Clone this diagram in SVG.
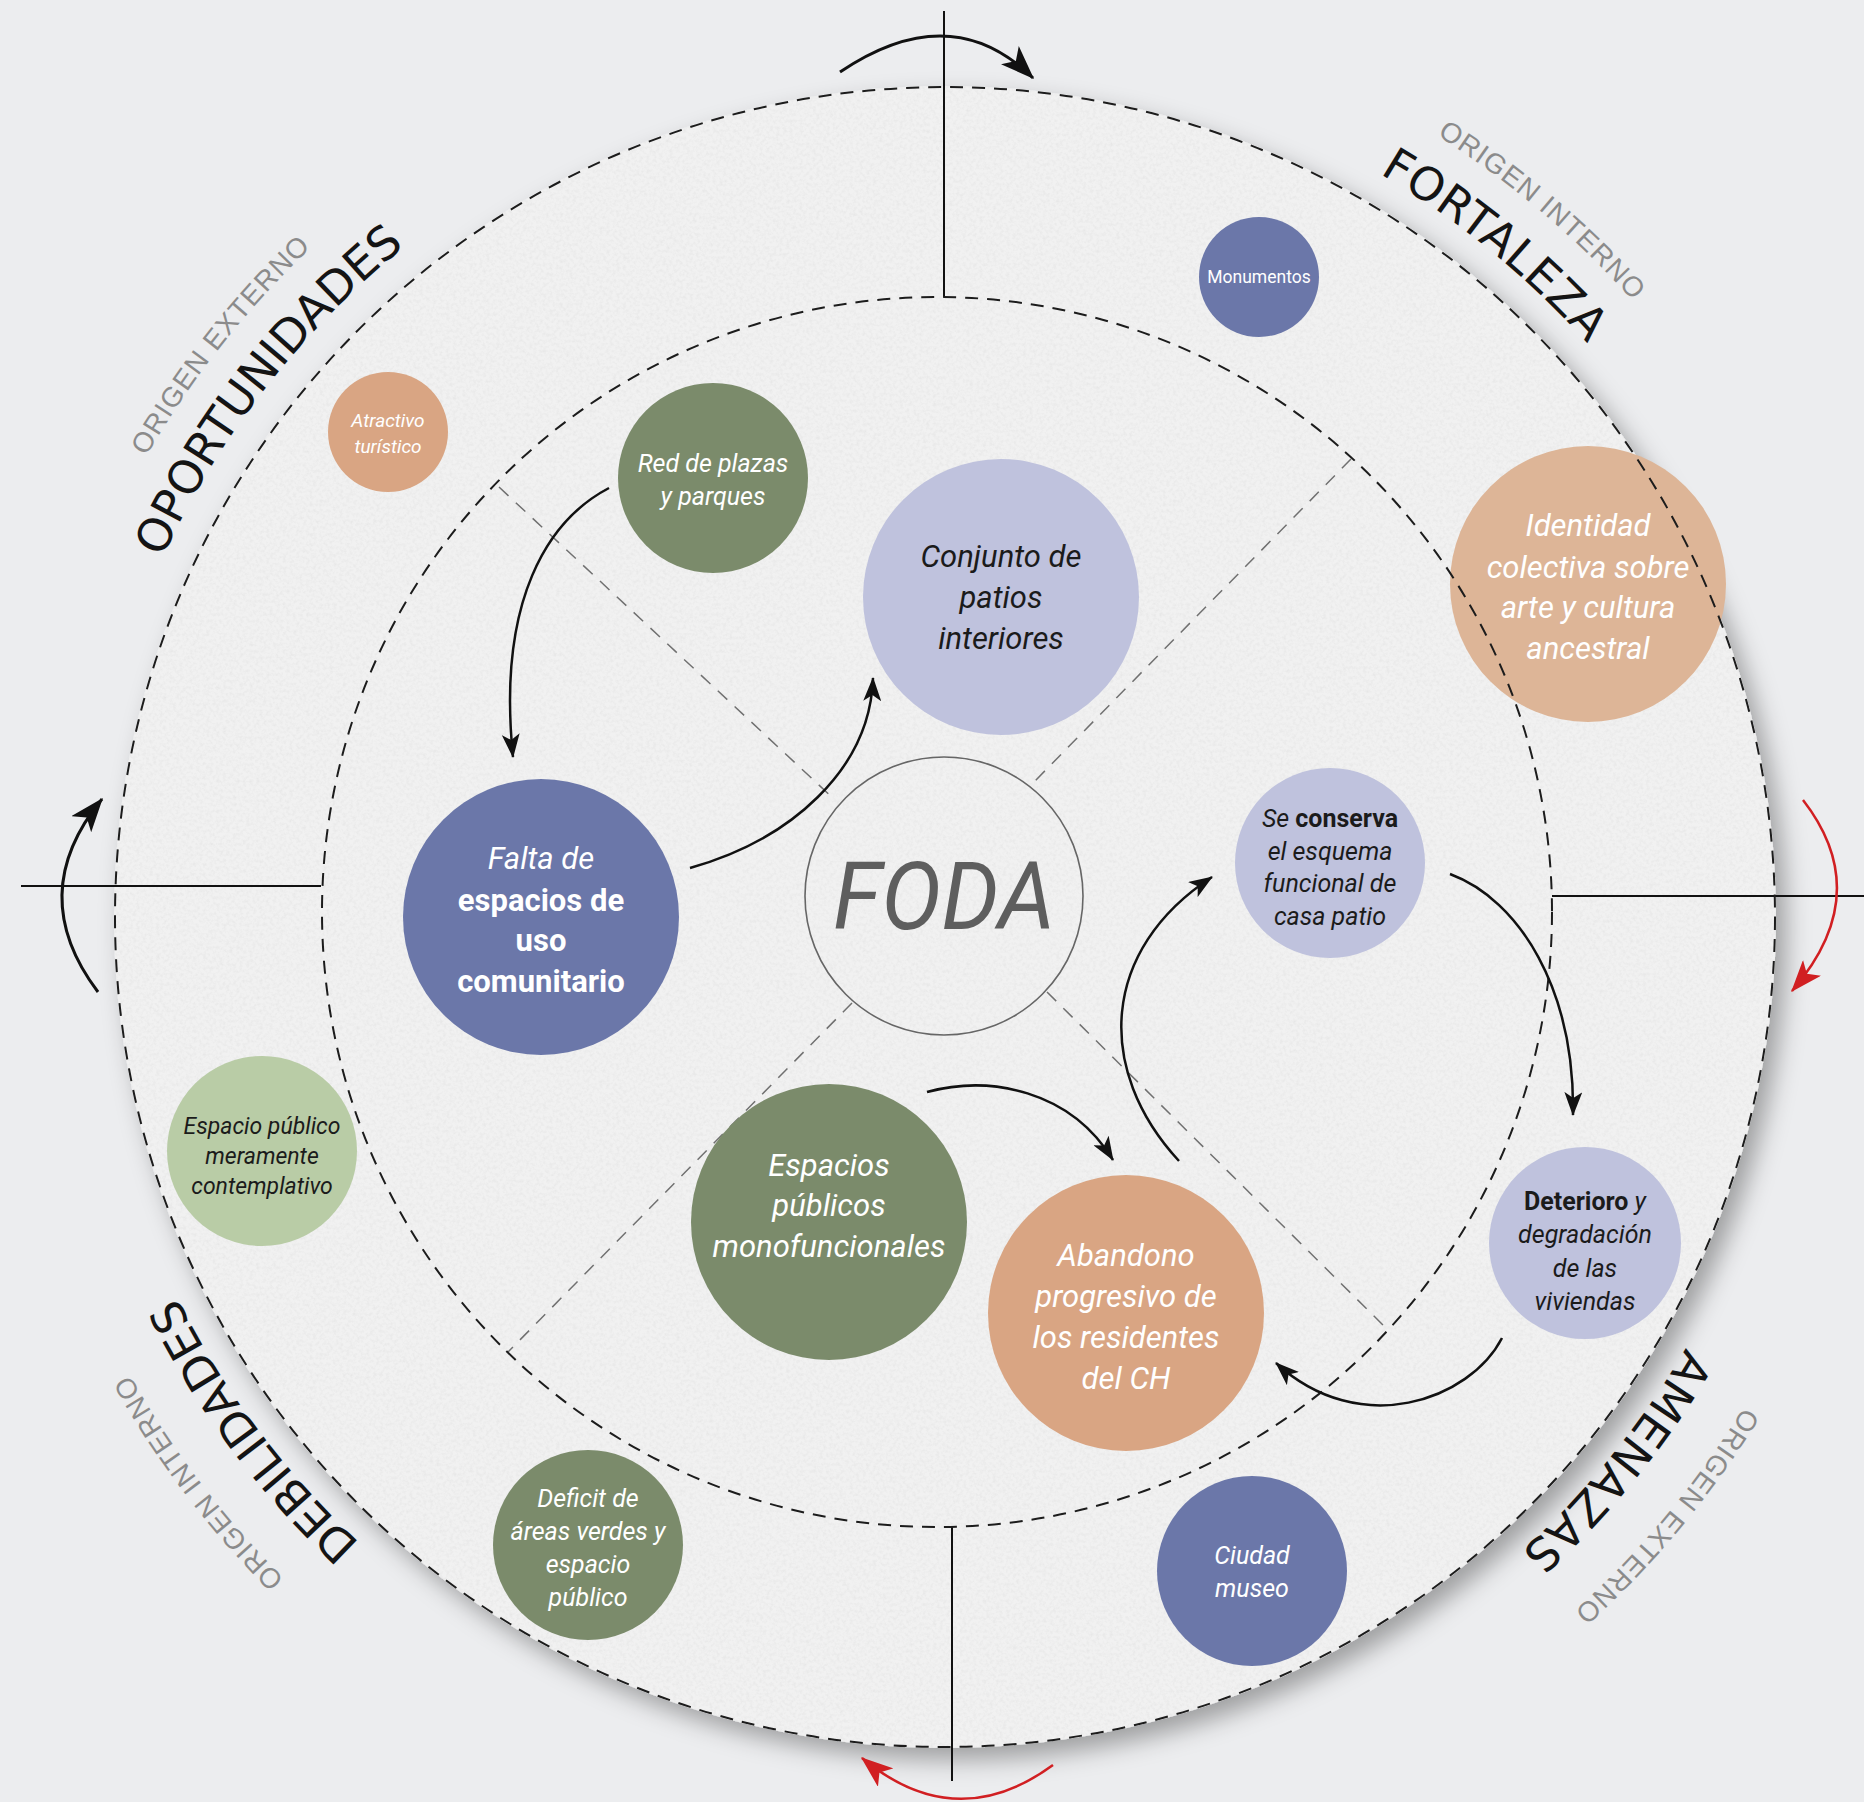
<svg xmlns="http://www.w3.org/2000/svg" width="1864" height="1802" viewBox="0 0 1864 1802">
<defs>
<style>
.lbl{font-family:"DejaVu Sans","Liberation Sans",sans-serif;font-size:46px;fill:#141414}
.org{font-family:"Liberation Sans",Arial,sans-serif;font-size:28px;fill:#8b8b8b;letter-spacing:1px}
.nt{font-family:Roboto,"Liberation Sans",sans-serif;font-style:italic;text-anchor:middle}
.w{fill:#ffffff}
.k{fill:#1b1b1b}
.b{font-weight:700;font-style:normal}
.up{font-style:normal}
.dash{fill:none;stroke:#1c1c1c;stroke-width:2;stroke-dasharray:13 9}
.diag{stroke:#707070;stroke-width:1.5;stroke-dasharray:13 10;fill:none}
.ax{stroke:#111;stroke-width:2}
.con{fill:none;stroke:#111;stroke-width:2.5}
.rot{fill:none;stroke:#111;stroke-width:3}
.rotr{fill:none;stroke:#d11f22;stroke-width:2.5}
.blue{fill:#6b77a9}.lav{fill:#bfc2dd}.peach{fill:#d9a583}.green{fill:#7b8b6b}.lgreen{fill:#b9cca6}
</style>
<filter id="sh" x="-10%" y="-10%" width="130%" height="130%">
<feDropShadow dx="10" dy="12" stdDeviation="12" flood-color="#000" flood-opacity="0.33"/>
</filter>
<filter id="tex" x="0" y="0" width="100%" height="100%">
<feTurbulence type="fractalNoise" baseFrequency="0.3" numOctaves="3" seed="7" result="n"/>
<feColorMatrix in="n" type="matrix" values="0 0 0 0 0.6  0 0 0 0 0.6  0 0 0 0 0.6  0.5 0 0 0 -0.2" result="m"/>
<feComposite in="m" in2="SourceGraphic" operator="in"/>
</filter>
<marker id="mk" viewBox="0 0 24 18" refX="23" refY="9" markerWidth="24" markerHeight="18" markerUnits="userSpaceOnUse" orient="auto"><path d="M0,0 L24,9 L0,18 L6,9 Z" fill="#111"/></marker>
<marker id="mkb" viewBox="0 0 24 18" refX="23" refY="9" markerWidth="34" markerHeight="26" markerUnits="userSpaceOnUse" orient="auto"><path d="M0,0 L24,9 L0,18 L6,9 Z" fill="#111"/></marker>
<marker id="mkr" viewBox="0 0 24 18" refX="23" refY="9" markerWidth="32" markerHeight="24" markerUnits="userSpaceOnUse" orient="auto"><path d="M0,0 L24,9 L0,18 L6,9 Z" fill="#d11f22"/></marker>
<path id="pO" d="M92.2,798.7 A861,861 0 0 1 621.1,119.3"/>
<path id="pOE" d="M32.7,783.9 A922,922 0 0 1 604.1,60.3"/>
<path id="pF" d="M1084.1,67.3 A861,861 0 0 1 1750.4,612.7"/>
<path id="pOI" d="M1108.5,8.1 A923.5,923.5 0 0 1 1813.9,604.2"/>
<path id="pD" d="M605.3,1703.8 A857,857 0 0 1 93.8,1016.2"/>
<path id="pOI2" d="M581.9,1778.6 A935,935 0 0 1 17.3,1033.4"/>
<path id="pA" d="M1791.4,1051.1 A857,857 0 0 1 1252.1,1717.1"/>
<path id="pOE2" d="M1868.6,1074.9 A937,937 0 0 1 1270.1,1795.8"/>
</defs>

<rect width="1864" height="1802" fill="#ecedef"/>
<circle cx="945" cy="917" r="831" fill="#f1f1f1" filter="url(#sh)"/>
<circle cx="945" cy="917" r="831" fill="#f1f1f1" filter="url(#tex)"/>

<g id="axes">
<line class="ax" x1="944" y1="11" x2="944" y2="297"/>
<line class="ax" x1="952" y1="1527" x2="952" y2="1781"/>
<line class="ax" x1="21" y1="886" x2="321" y2="886"/>
<line class="ax" x1="1552" y1="896" x2="1864" y2="896"/>
</g>

<g id="diagonals">
<line class="diag" x1="499" y1="487" x2="835" y2="800"/>
<line class="diag" x1="1351" y1="459" x2="1033" y2="783"/>
<line class="diag" x1="852" y1="1003" x2="508" y2="1352"/>
<line class="diag" x1="1047" y1="992" x2="1390" y2="1332"/>
</g>

<g id="n-monumentos"><circle class="blue" cx="1259" cy="277" r="60"/>
<text class="nt w up" x="1259" y="283" font-size="17.5">Monumentos</text></g>

<g id="n-atractivo"><circle class="peach" cx="388" cy="432" r="60"/>
<text class="nt w" font-size="19"><tspan x="388" y="427">Atractivo</tspan><tspan x="388" y="453">turístico</tspan></text></g>

<g id="n-red"><circle class="green" cx="713" cy="478" r="95"/>
<text class="nt w" font-size="25"><tspan x="713" y="472">Red de plazas</tspan><tspan x="713" y="505">y parques</tspan></text></g>

<g id="n-conjunto"><circle class="lav" cx="1001" cy="597" r="138"/>
<text class="nt k" font-size="31"><tspan x="1001" y="567">Conjunto de</tspan><tspan x="1001" y="608">patios</tspan><tspan x="1001" y="649">interiores</tspan></text></g>

<g id="n-identidad"><circle cx="1588" cy="584" r="138" fill="#ddb597"/>
<text class="nt w" font-size="31"><tspan x="1588" y="536">Identidad</tspan><tspan x="1588" y="578">colectiva sobre</tspan><tspan x="1588" y="618">arte y cultura</tspan><tspan x="1588" y="659">ancestral</tspan></text></g>

<g id="n-falta"><circle class="blue" cx="541" cy="917" r="138"/>
<text class="nt w" font-size="31"><tspan x="541" y="869">Falta de</tspan><tspan class="b" x="541" y="911">espacios de</tspan><tspan class="b" x="541" y="951">uso</tspan><tspan class="b" x="541" y="992">comunitario</tspan></text></g>

<g id="n-conserva"><circle class="lav" cx="1330" cy="863" r="95"/>
<text class="nt k" font-size="25"><tspan x="1330" y="827">Se <tspan class="b">conserva</tspan></tspan><tspan x="1330" y="860">el esquema</tspan><tspan x="1330" y="892">funcional de</tspan><tspan x="1330" y="925">casa patio</tspan></text></g>

<g id="n-contemplativo"><circle class="lgreen" cx="262" cy="1151" r="95"/>
<text class="nt k" font-size="23"><tspan x="262" y="1134">Espacio público</tspan><tspan x="262" y="1164">meramente</tspan><tspan x="262" y="1194">contemplativo</tspan></text></g>

<g id="n-monofuncionales"><circle class="green" cx="829" cy="1222" r="138"/>
<text class="nt w" font-size="31"><tspan x="829" y="1176">Espacios</tspan><tspan x="829" y="1216">públicos</tspan><tspan x="829" y="1257">monofuncionales</tspan></text></g>

<g id="n-abandono"><circle class="peach" cx="1126" cy="1313" r="138"/>
<text class="nt w" font-size="31"><tspan x="1126" y="1266">Abandono</tspan><tspan x="1126" y="1307">progresivo de</tspan><tspan x="1126" y="1348">los residentes</tspan><tspan x="1126" y="1389">del CH</tspan></text></g>

<g id="n-deterioro"><circle class="lav" cx="1585" cy="1243" r="96"/>
<text class="nt k" font-size="25"><tspan x="1585" y="1210"><tspan class="b">Deterioro</tspan> y</tspan><tspan x="1585" y="1243">degradación</tspan><tspan x="1585" y="1277">de las</tspan><tspan x="1585" y="1310">viviendas</tspan></text></g>

<g id="n-deficit"><circle class="green" cx="588" cy="1545" r="95"/>
<text class="nt w" font-size="25"><tspan x="588" y="1507">Deficit de</tspan><tspan x="588" y="1540">áreas verdes y</tspan><tspan x="588" y="1573">espacio</tspan><tspan x="588" y="1606">público</tspan></text></g>

<g id="n-ciudad"><circle class="blue" cx="1252" cy="1571" r="95"/>
<text class="nt w" font-size="25"><tspan x="1252" y="1564">Ciudad</tspan><tspan x="1252" y="1597">museo</tspan></text></g>

<g id="rings">
<circle class="dash" cx="945" cy="917" r="830"/>
<circle class="dash" cx="937" cy="912" r="615"/>
</g>

<g id="n-foda">
<circle cx="944" cy="896" r="139" fill="none" stroke="#666" stroke-width="1.6"/>
<text x="944" y="929" font-family="Roboto,'Liberation Sans',sans-serif" font-style="italic" font-size="94" fill="#5e5e5e" text-anchor="middle" textLength="222" lengthAdjust="spacingAndGlyphs">FODA</text>
</g>

<g id="connectors">
<path class="con" d="M609,488 C548,520 497,600 513,757" marker-end="url(#mk)"/>
<path class="con" d="M690,868 C790,840 870,770 873,678" marker-end="url(#mk)"/>
<path class="con" d="M927,1092 C990,1075 1070,1090 1113,1160" marker-end="url(#mk)"/>
<path class="con" d="M1179,1161 C1095,1070 1100,950 1212,877" marker-end="url(#mk)"/>
<path class="con" d="M1450,874 C1520,900 1575,990 1573,1115" marker-end="url(#mk)"/>
<path class="con" d="M1502,1338 C1470,1400 1360,1440 1276,1363" marker-end="url(#mk)"/>
<path class="rot" d="M840,72 Q951,-3 1033,78" marker-end="url(#mkb)"/>
<path class="rot" d="M98,992 Q24,894 102,799" marker-end="url(#mkb)"/>
<path class="rotr" d="M1803,800 Q1876,894 1792,991" marker-end="url(#mkr)"/>
<path class="rotr" d="M1053,1765 Q956,1836 862,1758" marker-end="url(#mkr)"/>
</g>

<g id="labels">
<text class="lbl"><textPath href="#pO" startOffset="50%" text-anchor="middle">OPORTUNIDADES</textPath></text>
<text class="org"><textPath href="#pOE" startOffset="50%" text-anchor="middle">ORIGEN EXTERNO</textPath></text>
<text class="lbl" style="letter-spacing:0.6px"><textPath href="#pF" startOffset="50%" text-anchor="middle">FORTALEZA</textPath></text>
<text class="org"><textPath href="#pOI" startOffset="50%" text-anchor="middle">ORIGEN INTERNO</textPath></text>
<text class="lbl"><textPath href="#pD" startOffset="50%" text-anchor="middle">DEBILIDADES</textPath></text>
<text class="org"><textPath href="#pOI2" startOffset="50%" text-anchor="middle">ORIGEN INTERNO</textPath></text>
<text class="lbl" style="letter-spacing:0.7px"><textPath href="#pA" startOffset="50%" text-anchor="middle">AMENAZAS</textPath></text>
<text class="org"><textPath href="#pOE2" startOffset="50%" text-anchor="middle">ORIGEN EXTERNO</textPath></text>
</g>
</svg>
